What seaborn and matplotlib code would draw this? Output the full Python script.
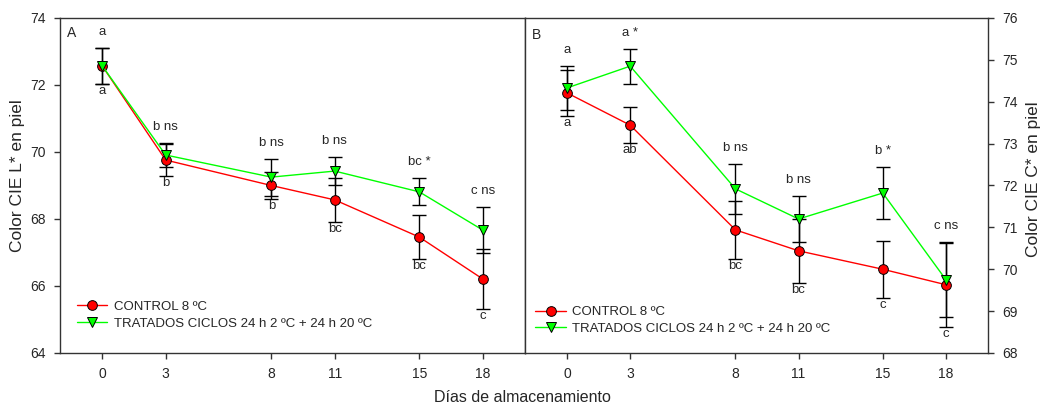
import numpy as np
import pandas as pd
import seaborn as sns
import matplotlib.pyplot as plt
from matplotlib.lines import Line2D

# datos
dias = [0, 3, 8, 11, 15, 18]
tratamientos = ["CONTROL 8 ºC", "TRATADOS CICLOS 24 h 2 ºC + 24 h 20 ºC"]

# panel A: L*
L_control = [72.57, 69.76, 69.00, 68.57, 67.46, 66.21]
L_control_sd = [0.53, 0.48, 0.40, 0.66, 0.65, 0.90]
L_tratado = [72.57, 69.91, 69.25, 69.43, 68.81, 67.67]
L_tratado_sd = [0.53, 0.35, 0.55, 0.42, 0.40, 0.68]
L_arriba = ["a", "b ns", "b ns", "b ns", "bc *", "c ns"]
L_abajo = ["a", "b", "b", "bc", "bc", "c"]

# panel B: C*
C_control = [74.21, 73.44, 70.94, 70.44, 70.00, 69.63]
C_control_sd = [0.55, 0.43, 0.70, 0.77, 0.68, 1.00]
C_tratado = [74.33, 74.85, 71.92, 71.20, 71.82, 69.75]
C_tratado_sd = [0.52, 0.42, 0.60, 0.55, 0.62, 0.90]
C_arriba = ["a", "a *", "b ns", "b ns", "b *", "c ns"]
C_abajo = ["a", "ab", "bc", "bc", "c", "c"]

sns.set_theme(style="ticks")
plt.rcParams["font.family"] = ["Liberation Sans", "DejaVu Sans"]

colores = {tratamientos[0]: "#ff0000", tratamientos[1]: "#00ff00"}
marcas = {tratamientos[0]: "o", tratamientos[1]: "v"}


def panel(ax, control, control_sd, tratado, tratado_sd, arriba, abajo, leg_pos):
    df = pd.DataFrame({
        "dia": dias * 2,
        "valor": control + tratado,
        "sd": control_sd + tratado_sd,
        "trat": [tratamientos[0]] * len(dias) + [tratamientos[1]] * len(dias),
    })
    for t in tratamientos:
        d = df[df.trat == t]
        ax.errorbar(d.dia, d.valor, yerr=d.sd, fmt="none", ecolor="black",
                    elinewidth=1, capsize=5, capthick=1, zorder=2)
    sns.lineplot(data=df, x="dia", y="valor", hue="trat", style="trat",
                 palette=colores, markers=marcas, dashes=False, legend=False,
                 linewidth=1, markersize=7, markeredgecolor="black",
                 markeredgewidth=0.7, ax=ax, zorder=3)
    # letras
    cs = np.array(control)
    ts = np.array(tratado)
    sup = np.maximum(cs + np.array(control_sd), ts + np.array(tratado_sd))
    inf = np.minimum(cs - np.array(control_sd), ts - np.array(tratado_sd))
    for x, s, i, ta, tb in zip(dias, sup, inf, arriba, abajo):
        ax.annotate(ta, (x, s), xytext=(0, 10), textcoords="offset pixels",
                    ha="center", va="bottom", fontsize=9.5)
        ax.annotate(tb, (x, i), xytext=(0, -1), textcoords="offset pixels",
                    ha="center", va="top", fontsize=9.5)
    ax.set_xlim(-2, 20)
    ax.set_xticks(dias)
    ax.set_xlabel("")
    ax.set_ylabel("")
    handles = [Line2D([], [], color=colores[t], marker=marcas[t], markersize=7,
                      markeredgecolor="black", markeredgewidth=0.7, lw=1)
               for t in tratamientos]
    ax.legend(handles, tratamientos, loc="center left", frameon=False,
              fontsize=9.5, handlelength=2.3, handletextpad=0.5,
              borderaxespad=0, labelspacing=0.35, bbox_to_anchor=leg_pos)


fig = plt.figure(figsize=(10.41, 4.05), dpi=100)
axA = fig.add_axes([0.0576, 0.1284, 0.4467, 0.8272])
axB = fig.add_axes([0.5043, 0.1284, 0.4448, 0.8272])

panel(axA, L_control, L_control_sd, L_tratado, L_tratado_sd, L_arriba, L_abajo,
      (0.025, 0.113))
panel(axB, C_control, C_control_sd, C_tratado, C_tratado_sd, C_arriba, C_abajo,
      (0.011, 0.097))

axA.set_ylim(64, 74)
axA.set_yticks([64, 66, 68, 70, 72, 74])
axA.set_ylabel("Color CIE L* en piel", fontsize=12.5)
axA.yaxis.set_label_coords(-0.075, 0.53)
axB.set_ylim(68, 76)
axB.set_yticks(range(68, 77))
axB.yaxis.tick_right()
axB.yaxis.set_label_position("right")
axB.set_ylabel("Color CIE C* en piel", fontsize=12.5)
axB.yaxis.set_label_coords(1.083, 0.52)

for ax in (axA, axB):
    for s in ax.spines.values():
        s.set_visible(True)
        s.set_linewidth(1)
        s.set_color("#333333")
    ax.tick_params(axis="both", labelsize=10, length=4, width=1,
                   direction="out", color="#333333", pad=6)

axA.text(0.015, 0.975, "A", transform=axA.transAxes, ha="left", va="top",
         fontsize=10)
axB.text(0.015, 0.97, "B", transform=axB.transAxes, ha="left", va="top",
         fontsize=10)

fig.text(0.5015, 0.018, "Días de almacenamiento", ha="center", va="center",
         fontsize=11.5)

fig.savefig("out.png", dpi=100)
